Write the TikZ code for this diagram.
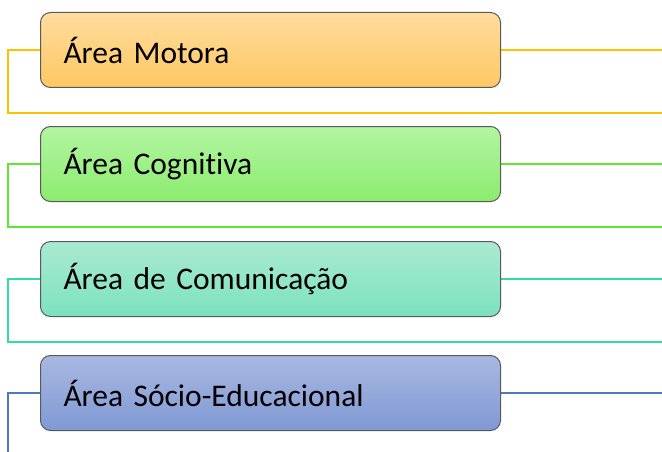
\documentclass[tikz,border=0pt]{standalone}
\usepackage{fontspec}
\setmainfont{Carlito}[Ligatures=NoCommon]
\definecolor{motoratop}{HTML}{FFDC9F}
\definecolor{motorabot}{HTML}{FFC862}
\definecolor{motoraline}{HTML}{FFC000}
\definecolor{cogntop}{HTML}{B2F5A2}
\definecolor{cognbot}{HTML}{8CEC6E}
\definecolor{cognline}{HTML}{5FE633}
\definecolor{comutop}{HTML}{AAEAD2}
\definecolor{comubot}{HTML}{7CE2BD}
\definecolor{comuline}{HTML}{33DDA0}
\definecolor{sociotop}{HTML}{A9B8E1}
\definecolor{sociobot}{HTML}{7F99D4}
\definecolor{socioline}{HTML}{4F78C4}
\tikzset{area/.style={draw=black!65, line width=1pt, rounded corners=10pt,
    minimum width=460pt, minimum height=75pt, text width=414pt, align=left,
    inner xsep=23pt, anchor=west, font=\fontsize{31.5}{36}\selectfont},
  branch/.style={line width=1.5pt}}

\begin{document}
\begin{tikzpicture}[x=1pt, y=-1pt]
    \useasboundingbox (0,0) rectangle (662,452);
    \coordinate (A1) at (8,113);
    \coordinate (A2) at (8,227);
    \coordinate (A3) at (8,342);
    \coordinate (A4) at (8,452);
    % lines behind the boxes
    \foreach \y/\n/\c in {50/1/motoraline, 164/2/cognline, 279/3/comuline} {
        \draw[branch, draw=\c] (662,\y) -- (8,\y) -- (A\n) -- +(654,0);
    }
    \draw[branch, draw=socioline] (662,393) -- (8,393) -- (A4);
    \node[area, top color=motoratop, bottom color=motorabot] (motora) at (40,50) {Área Motora};
    \node[area, top color=cogntop, bottom color=cognbot] (cogn) at (40,164) {Área Cognitiva};
    \node[area, top color=comutop, bottom color=comubot] (comu) at (40,279) {Área de Comunicação};
    \node[area, top color=sociotop, bottom color=sociobot] (socio) at (40,393) {Área Sócio-Educacional};
\end{tikzpicture}
\end{document}
